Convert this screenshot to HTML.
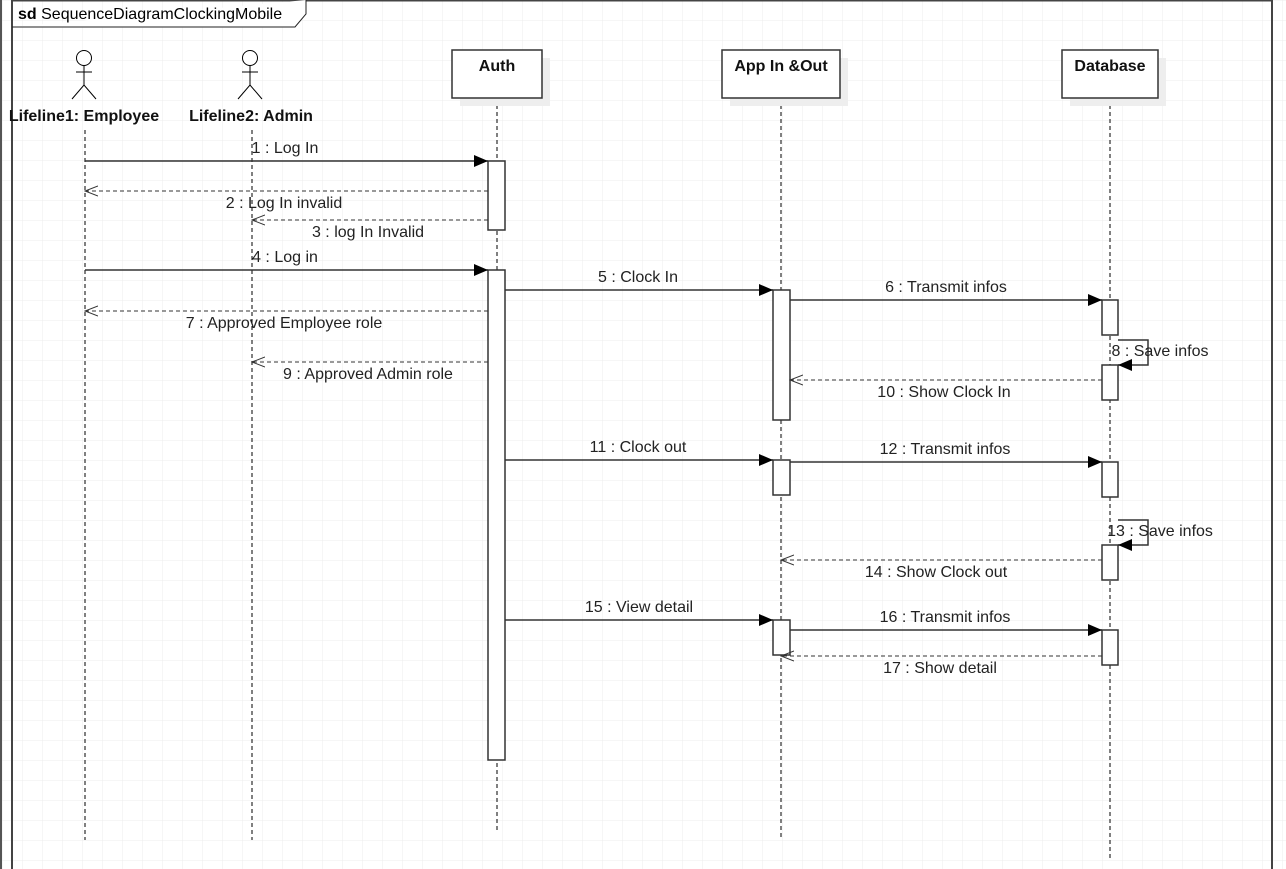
<!DOCTYPE html>
<html><head><meta charset="utf-8"><style>
html,body{margin:0;padding:0;background:#fff;}
svg{display:block;font-family:"Liberation Sans",sans-serif;}
</style></head><body>
<svg width="1286" height="869" viewBox="0 0 1286 869" xmlns="http://www.w3.org/2000/svg">
<defs>
<pattern id="g" x="2" y="0" width="20" height="20" patternUnits="userSpaceOnUse">
<path d="M0 0H20M0 0V20" stroke="#ececec" stroke-width="1" fill="none"/>
</pattern>
<marker id="fa" markerWidth="14" markerHeight="12" refX="14" refY="6" orient="auto" markerUnits="userSpaceOnUse"><path d="M0 0L14 6L0 12Z" fill="#000"/></marker>
<marker id="oa" markerWidth="14" markerHeight="12" refX="13" refY="6" orient="auto" markerUnits="userSpaceOnUse"><path d="M0 1L13 6L0 11" fill="none" stroke="#333" stroke-width="1"/></marker>
</defs>
<rect width="1286" height="869" fill="url(#g)"/>
<rect x="0" y="0" width="2" height="869" fill="#555"/>
<path d="M12 869V0.5H1272V869" fill="none" stroke="#444" stroke-width="2"/>
<path d="M12 27H295L306 14V0" fill="#fff" stroke="#222" stroke-width="1"/>
<text x="18" y="19" font-size="16" fill="#000"><tspan font-weight="bold">sd</tspan> SequenceDiagramClockingMobile</text>

<g stroke="#000" stroke-dasharray="4,3" stroke-width="1">
<line x1="85" y1="130" x2="85" y2="840"/>
<line x1="252" y1="130" x2="252" y2="840"/>
<line x1="497" y1="98" x2="497" y2="830"/>
<line x1="781" y1="98" x2="781" y2="840"/>
<line x1="1110" y1="98" x2="1110" y2="860"/>
</g>

<g stroke="#000" fill="#fff" stroke-width="1">
<circle cx="84" cy="58" r="7.5"/><line x1="84" y1="65.5" x2="84" y2="85"/><line x1="76" y1="72" x2="92" y2="72"/><path d="M72 99L84 85L96 99" fill="none"/>
<circle cx="250" cy="58" r="7.5"/><line x1="250" y1="65.5" x2="250" y2="85"/><line x1="242" y1="72" x2="258" y2="72"/><path d="M238 99L250 85L262 99" fill="none"/>
</g>
<g font-size="16" font-weight="bold" text-anchor="middle" fill="#111">
<text x="84" y="121">Lifeline1: Employee</text>
<text x="251" y="121">Lifeline2: Admin</text>
</g>

<g>
<rect x="460" y="58" width="90" height="48" fill="#eee"/>
<rect x="452" y="50" width="90" height="48" fill="#fff" stroke="#333" stroke-width="1.5"/>
<rect x="730" y="58" width="118" height="48" fill="#eee"/>
<rect x="722" y="50" width="118" height="48" fill="#fff" stroke="#333" stroke-width="1.5"/>
<rect x="1070" y="58" width="96" height="48" fill="#eee"/>
<rect x="1062" y="50" width="96" height="48" fill="#fff" stroke="#333" stroke-width="1.5"/>
</g>
<g font-size="16" font-weight="bold" text-anchor="middle" fill="#111">
<text x="497" y="71">Auth</text>
<text x="781" y="71">App In &amp;Out</text>
<text x="1110" y="71">Database</text>
</g>

<g fill="#fff" stroke="#333" stroke-width="1.5">
<rect x="488" y="161" width="17" height="69"/>
<rect x="488" y="270" width="17" height="490"/>
<rect x="773" y="290" width="17" height="130"/>
<rect x="773" y="460" width="17" height="35"/>
<rect x="773" y="620" width="17" height="35"/>
<rect x="1102" y="300" width="16" height="35"/>
<rect x="1102" y="365" width="16" height="35"/>
<rect x="1102" y="462" width="16" height="35"/>
<rect x="1102" y="545" width="16" height="35"/>
<rect x="1102" y="630" width="16" height="35"/>
</g>

<g stroke="#333" stroke-width="1.5" fill="none" marker-end="url(#fa)">
<line x1="85" y1="161" x2="488" y2="161"/>
<line x1="85" y1="270" x2="488" y2="270"/>
<line x1="505" y1="290" x2="773" y2="290"/>
<line x1="790" y1="300" x2="1102" y2="300"/>
<line x1="505" y1="460" x2="773" y2="460"/>
<line x1="790" y1="462" x2="1102" y2="462"/>
<line x1="505" y1="620" x2="773" y2="620"/>
<line x1="790" y1="630" x2="1102" y2="630"/>
<path d="M1118 340H1148V365H1118"/>
<path d="M1118 520H1148V545H1118"/>
</g>

<g stroke="#333" stroke-width="1" stroke-dasharray="4,3" fill="none" marker-end="url(#oa)">
<line x1="488" y1="191" x2="85" y2="191"/>
<line x1="488" y1="220" x2="252" y2="220"/>
<line x1="488" y1="311" x2="85" y2="311"/>
<line x1="488" y1="362" x2="252" y2="362"/>
<line x1="1102" y1="380" x2="790" y2="380"/>
<line x1="1102" y1="560" x2="781" y2="560"/>
<line x1="1102" y1="656" x2="781" y2="656"/>
</g>

<g font-size="16" fill="#222" text-anchor="middle">
<text x="285" y="153">1 : Log In</text>
<text x="284" y="208">2 : Log In invalid</text>
<text x="368" y="237">3 : log In Invalid</text>
<text x="285" y="262">4 : Log in</text>
<text x="638" y="282">5 : Clock In</text>
<text x="946" y="292">6 : Transmit infos</text>
<text x="284" y="328">7 : Approved Employee role</text>
<text x="1160" y="356">8 : Save infos</text>
<text x="368" y="379">9 : Approved Admin role</text>
<text x="944" y="397">10 : Show Clock In</text>
<text x="638" y="452">11 : Clock out</text>
<text x="945" y="454">12 : Transmit infos</text>
<text x="1160" y="536">13 : Save infos</text>
<text x="936" y="577">14 : Show Clock out</text>
<text x="639" y="612">15 : View detail</text>
<text x="945" y="622">16 : Transmit infos</text>
<text x="940" y="673">17 : Show detail</text>
</g>
</svg>
</body></html>
